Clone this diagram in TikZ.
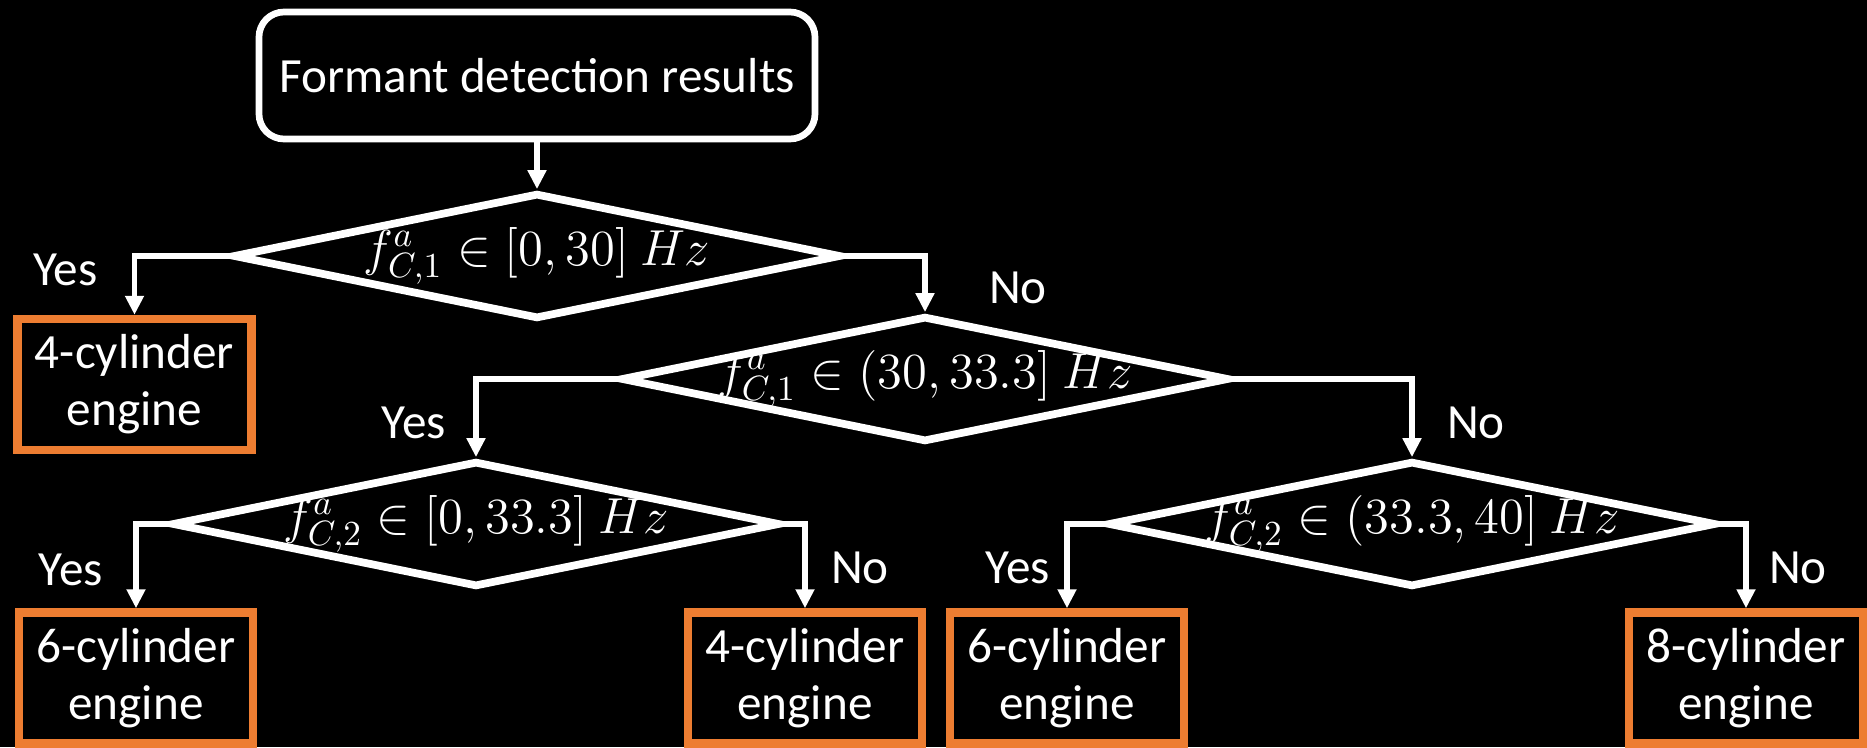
\documentclass[tikz,border=0pt]{standalone}
\usepackage{fontspec}
\setmainfont{Carlito}
\usepackage{tikz}
\usetikzlibrary{shapes.geometric}
\usetikzlibrary{arrows.meta}
\definecolor{engineorange}{HTML}{ED7D31}
\tikzset{startbox/.style = {draw=white, line width=1.9pt, rounded corners=0.25cm,
                            minimum width=5.56cm, minimum height=1.27cm},
         cond/.style = {draw=white, diamond, line width=2.2pt, aspect=4.8, inner sep=0pt,
                        minimum width=6.08cm, minimum height=1.26cm},
         engine/.style = {draw=engineorange, line width=2.4pt, align=center, inner sep=0pt,
                          minimum width=2.34cm, minimum height=1.31cm},
         flow/.style = {draw=white, line width=1.5pt, -{Triangle[width=0.18cm,length=0.19cm]}}}
\newcommand{\condtext}[1]{\makebox[0pt]{$#1$}}

\begin{document}
\begin{tikzpicture}[white, font=\fontsize{14}{16.2}\selectfont]
     \useasboundingbox (0, 0) rectangle (18.67, 7.47);
     \fill [black] (0, 0) rectangle (18.67, 7.47);
     % start and conditions
     \node [startbox] (start) at (5.37, 6.715) {Formant detection results};
     \node [cond] (d1) at (5.37, 4.91) {\condtext{f^{a}_{C,1} \in [0, 30]\ Hz}};
     \node [cond] (d2) at (9.25, 3.68) {\condtext{f^{a}_{C,1} \in (30, 33.3]\ Hz}};
     \node [cond] (d3) at (4.76, 2.23) {\condtext{f^{a}_{C,2} \in [0, 33.3]\ Hz}};
     \node [cond] (d4) at (14.12, 2.23) {\condtext{f^{a}_{C,2} \in (33.3, 40]\ Hz}};
     % engines
     \node [engine] (e1) at (1.345, 3.625) {4-cylinder\\engine};
     \node [engine] (e2) at (1.36, 0.69) {6-cylinder\\engine};
     \node [engine] (e3) at (8.05, 0.69) {4-cylinder\\engine};
     \node [engine] (e4) at (10.67, 0.69) {6-cylinder\\engine};
     \node [engine] (e5) at (17.46, 0.69) {8-cylinder\\engine};
     % answers
     \node (y1) at (0.655, 4.77) {Yes};
     \node (n1) at (10.18, 4.59) {No};
     \node (y2) at (4.14, 3.24) {Yes};
     \node (n2) at (14.76, 3.24) {No};
     \node (y3) at (0.71, 1.77) {Yes};
     \node (n3) at (8.60, 1.79) {No};
     \node (y4) at (10.18, 1.79) {Yes};
     \node (n4) at (17.98, 1.79) {No};
     % connectors
     \draw [flow] (start.south) -- (d1.north);
     \draw [flow] (d1.west) -| (e1.north);
     \draw [flow] (d1.east) -| (d2.north);
     \draw [flow] (d2.west) -| (d3.north);
     \draw [flow] (d2.east) -| (d4.north);
     \draw [flow] (d3.west) -| (e2.north);
     \draw [flow] (d3.east) -| (e3.north);
     \draw [flow] (d4.west) -| (e4.north);
     \draw [flow] (d4.east) -| (e5.north);
\end{tikzpicture}
\end{document}
